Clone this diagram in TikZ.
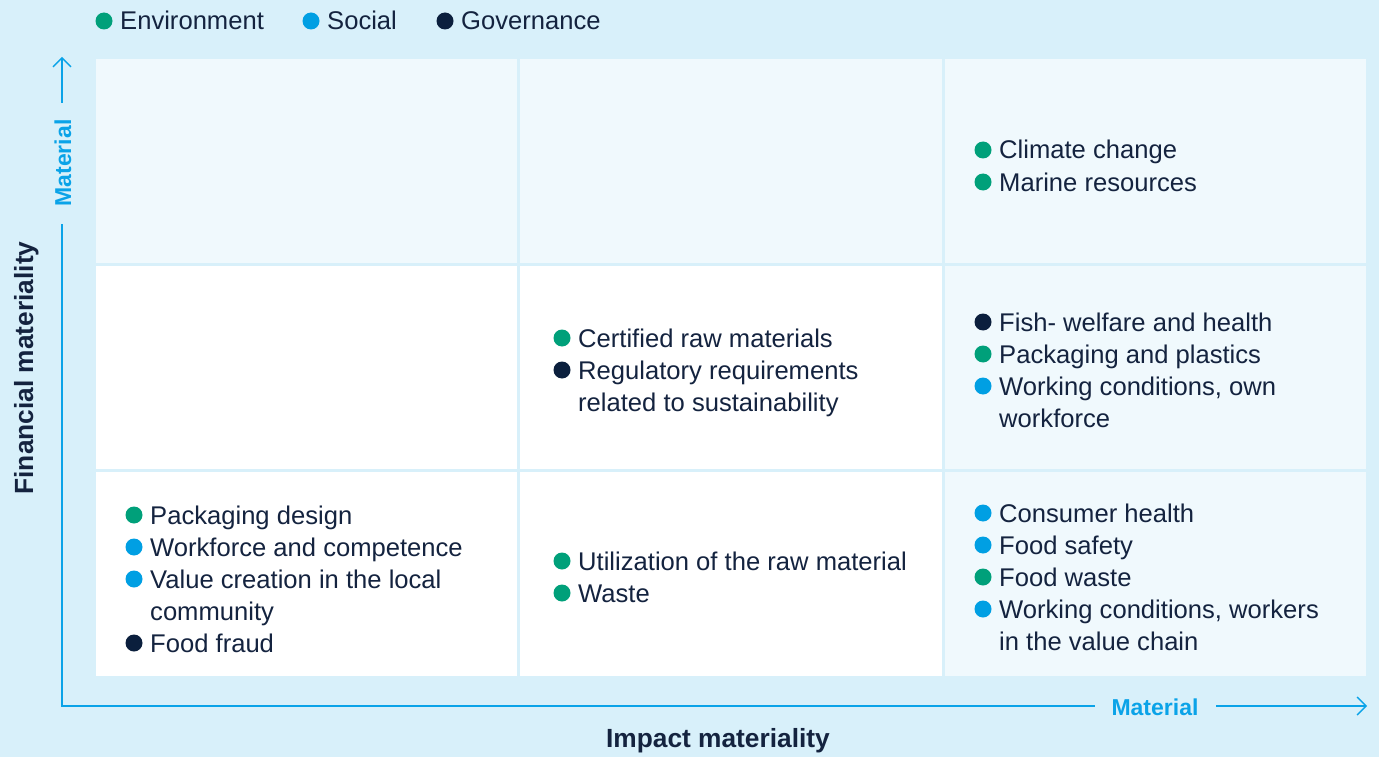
\documentclass[tikz,border=0pt]{standalone}
\usepackage{fontspec}
\setmainfont{Liberation Sans}
\usetikzlibrary{arrows.meta}

\definecolor{bgblue}{HTML}{D8F0FA}
\definecolor{cellblue}{HTML}{F0F9FD}
\definecolor{envgreen}{HTML}{00A07A}
\definecolor{socblue}{HTML}{009FE3}
\definecolor{govnavy}{HTML}{0B1F3D}
\definecolor{ink}{HTML}{14233F}
\definecolor{axisblue}{HTML}{0AA3E8}

\tikzset{
  esgdot/.style={circle, fill=#1, minimum size=17pt, inner sep=0pt},
  itemtext/.style={anchor=base west, inner sep=0pt, text=ink,
    font=\fontsize{25.6}{32}\selectfont},
  axislabel/.style={font=\bfseries\fontsize{26.3}{30}\selectfont, text=ink, inner sep=0pt},
  matlabel/.style={font=\bfseries\fontsize{23}{28}\selectfont, text=axisblue, inner sep=0pt},
  axisline/.style={draw=axisblue, line width=1.4pt},
  axisarrow/.style={axisline, -{Straight Barb[length=9pt,width=18pt,line width=1.4pt]}},
}

% a coloured bullet followed by the first line of its topic
\newcommand\esgitem[5]{%
  \node[esgdot=#2] (#1-dot) at (#3,#4) {};
  \node[itemtext] (#1) at ([xshift=16pt,yshift=-9pt]#1-dot.center) {#5};
}
% a further line of a topic, set under the line named #1
\newcommand\esgmore[3]{%
  \node[itemtext] (#2) at ([yshift=-32pt]#1.base west) {#3};
}

\begin{document}
\begin{tikzpicture}[x=1pt,y=-1pt]
  \fill[bgblue] (0,0) rectangle (1379,757);
  \useasboundingbox (0,0) rectangle (1379,757);

  % matrix cells
  \fill[cellblue] (96,59)  rectangle (517,263);
  \fill[cellblue] (520,59) rectangle (942,263);
  \fill[cellblue] (945,59) rectangle (1366,263);
  \fill[white]    (96,266)  rectangle (517,469);
  \fill[white]    (520,266) rectangle (942,469);
  \fill[cellblue] (945,266) rectangle (1366,469);
  \fill[white]    (96,472)  rectangle (517,676);
  \fill[white]    (520,472) rectangle (942,676);
  \fill[cellblue] (945,472) rectangle (1366,676);

  % legend
  \esgitem{lg-env}{envgreen}{104}{21}{Environment}
  \esgitem{lg-soc}{socblue}{311}{21}{Social}
  \esgitem{lg-gov}{govnavy}{445}{21}{Governance}

  % axes
  \coordinate (origin) at (62,706);
  \coordinate (ytop) at (62,57);
  \coordinate (xend) at (1367,706);
  \node[matlabel, rotate=90] (ymat) at (63,163) {Material};
  \node[matlabel] (xmat) at (1155,707) {Material};
  \coordinate (ygapLow) at (62,224);
  \coordinate (ygapHigh) at (62,103);
  \coordinate (xgapLeft) at (1095,706);
  \coordinate (xgapRight) at (1216,706);
  \draw[axisline] (ygapLow) -- (origin) -- (xgapLeft);
  \draw[axisarrow] (ygapHigh) -- (ytop);
  \draw[axisarrow] (xgapRight) -- (xend);

  \node[axislabel, anchor=base] (xtitle) at (718,747) {Impact materiality};
  \node[axislabel, anchor=base, rotate=90] (ytitle) at (33,368) {Financial materiality};

  % top row, right
  \esgitem{climate}{envgreen}{983}{150}{Climate change}
  \esgitem{marine}{envgreen}{983}{182}{Marine resources}

  % middle row, centre
  \esgitem{certified}{envgreen}{562}{338}{Certified raw materials}
  \esgitem{regulatory}{govnavy}{562}{370}{Regulatory requirements}
  \esgmore{regulatory}{regulatory2}{related to sustainability}

  % middle row, right
  \esgitem{fish}{govnavy}{983}{322}{Fish- welfare and health}
  \esgitem{plastics}{envgreen}{983}{354}{Packaging and plastics}
  \esgitem{ownwork}{socblue}{983}{386}{Working conditions, own}
  \esgmore{ownwork}{ownwork2}{workforce}

  % bottom row, left
  \esgitem{design}{envgreen}{134}{515}{Packaging design}
  \esgitem{competence}{socblue}{134}{547}{Workforce and competence}
  \esgitem{community}{socblue}{134}{579}{Value creation in the local}
  \esgmore{community}{community2}{community}
  \esgitem{fraud}{govnavy}{134}{643}{Food fraud}

  % bottom row, centre
  \esgitem{utilization}{envgreen}{562}{561}{Utilization of the raw material}
  \esgitem{waste}{envgreen}{562}{593}{Waste}

  % bottom row, right
  \esgitem{consumer}{socblue}{983}{513}{Consumer health}
  \esgitem{safety}{socblue}{983}{545}{Food safety}
  \esgitem{foodwaste}{envgreen}{983}{577}{Food waste}
  \esgitem{chain}{socblue}{983}{609}{Working conditions, workers}
  \esgmore{chain}{chain2}{in the value chain}
\end{tikzpicture}
\end{document}
